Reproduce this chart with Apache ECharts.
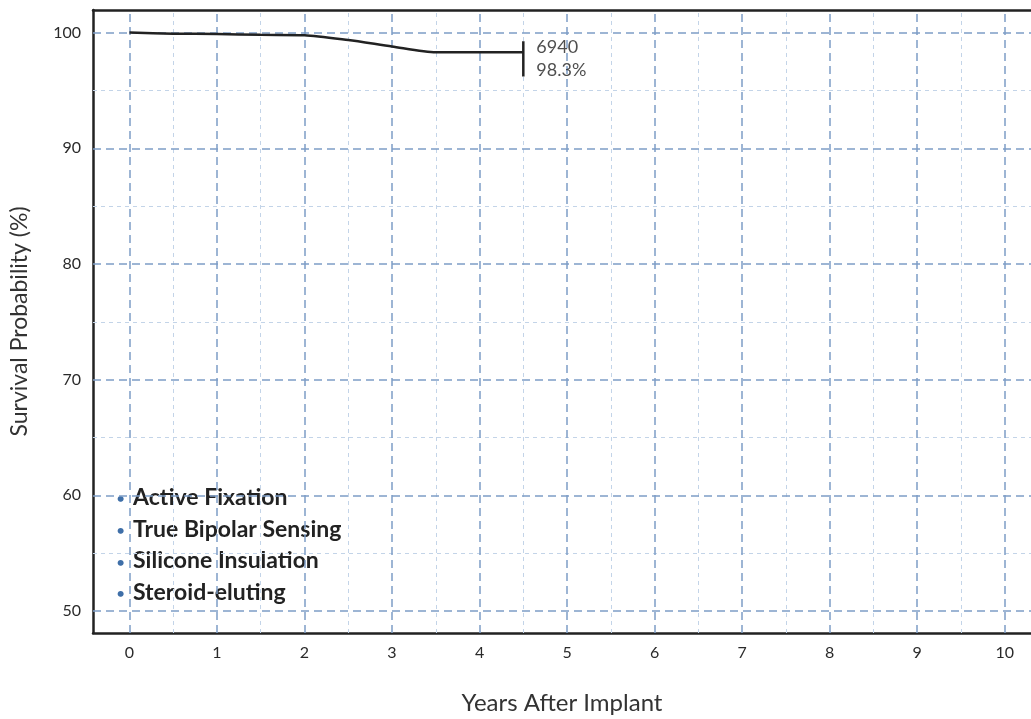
<!DOCTYPE html>
<html>
<head>
<meta charset="utf-8">
<script src="https://cdn.jsdelivr.net/npm/echarts@6/dist/echarts.min.js"></script>
<style>html,body{margin:0;padding:0;background:#fff}#c{width:1031px;height:719px}</style>
</head>
<body>
<div id="c"></div>
<script>
const years = [0, 0.5, 1, 1.5, 2, 2.5, 3, 3.5, 4, 4.5];
const survival = [100, 99.9, 99.88, 99.8, 99.77, 99.35, 98.8, 98.3, 98.3, 98.3];
const endYear = 4.5;
const endCount = 6940;
const endValue = 98.3;
const endBarRange = [99.25, 96.2];
const xTicks = [0, 1, 2, 3, 4, 5, 6, 7, 8, 9, 10];
const xMinorTicks = [0.5, 1.5, 2.5, 3.5, 4.5, 5.5, 6.5, 7.5, 8.5, 9.5];
const yTicks = [50, 60, 70, 80, 90, 100];
const yMinorTicks = [55, 65, 75, 85, 95];
const features = ['Active Fixation', 'True Bipolar Sensing', 'Silicone Insulation', 'Steroid-eluting'];

const FONT = 'Lato, "Open Sans", sans-serif';
const majorStyle = { color: '#7e9dc6', type: [8, 5], width: 1.5 };
const minorStyle = { color: '#c3d4e8', type: [4, 4], width: 1 };

const gridLines = [];
xMinorTicks.forEach(v => gridLines.push({ xAxis: v, lineStyle: minorStyle }));
yMinorTicks.forEach(v => gridLines.push({ yAxis: v, lineStyle: minorStyle }));
xTicks.forEach(v => gridLines.push({ xAxis: v, lineStyle: majorStyle }));
yTicks.forEach(v => gridLines.push({ yAxis: v, lineStyle: majorStyle }));

const chart = echarts.init(document.getElementById('c'), null, { renderer: 'canvas' });
const xMin = -0.416, xMax = 10.3, yMin = 48.1, yMax = 101.95;
const axisLine = { show: true, onZero: false, lineStyle: { color: '#222', width: 2.5 } };

chart.setOption({
  animation: false,
  backgroundColor: '#fff',
  grid: { left: 93, right: 0, top: 10, bottom: 86, containLabel: false, outerBoundsMode: 'none' },
  xAxis: [{
    type: 'value', min: xMin, max: xMax,
    axisLine: axisLine,
    axisTick: { show: false },
    splitLine: { show: false },
    axisLabel: { customValues: xTicks, fontSize: 16, color: '#2a2a2a', margin: 12, fontFamily: FONT },
    name: 'Years After Implant', nameLocation: 'middle', nameGap: 58,
    nameTextStyle: { fontSize: 24, color: '#333', fontFamily: FONT }
  }, {
    type: 'value', min: xMin, max: xMax, position: 'top',
    axisLine: axisLine,
    axisTick: { show: false }, axisLabel: { show: false }, splitLine: { show: false }
  }],
  yAxis: {
    type: 'value', min: yMin, max: yMax,
    axisLine: axisLine,
    axisTick: { show: false },
    splitLine: { show: false },
    axisLabel: { customValues: yTicks, fontSize: 16, color: '#2a2a2a', margin: 12, fontFamily: FONT },
    name: 'Survival Probability (%)', nameLocation: 'middle', nameGap: 62,
    nameTextStyle: { fontSize: 23, color: '#333', fontFamily: FONT }
  },
  series: [{
    type: 'line', data: [], silent: true, z: 1,
    markLine: { silent: true, symbol: 'none', label: { show: false }, animation: false, data: gridLines }
  }, {
    type: 'line', z: 5,
    data: years.map((x, i) => [x, survival[i]]),
    showSymbol: false, smooth: 0.25,
    lineStyle: { color: '#222', width: 2.5 }
  }, {
    type: 'line', z: 5,
    data: endBarRange.map(v => [endYear, v]),
    showSymbol: false,
    lineStyle: { color: '#222', width: 2.5 }
  }, {
    type: 'scatter', z: 6, symbolSize: 0,
    data: [[endYear, endValue]],
    label: {
      show: true, position: 'right', distance: 13, offset: [0, 6],
      formatter: () => endCount + '\n' + endValue + '%',
      fontSize: 18, lineHeight: 23, color: '#222', fontFamily: FONT
    }
  }],
  graphic: features.map((t, i) => ({
    type: 'group', left: 116, top: 486 + i * 31.7,
    children: [
      { type: 'text', left: 0, top: 5, style: { text: '•', fontSize: 16, fill: '#3f6fa8', fontFamily: FONT } },
      { type: 'text', left: 17, top: 0, style: { text: t, fontSize: 23, fontWeight: 'bold', fill: '#222', fontFamily: FONT } }
    ]
  }))
});
</script>
</body>
</html>
